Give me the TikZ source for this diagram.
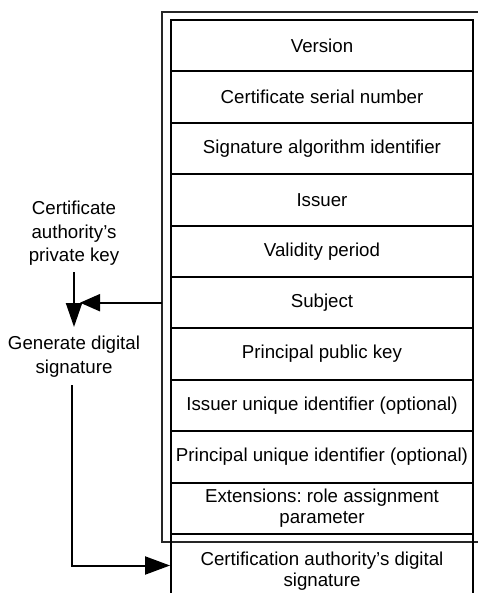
\documentclass[tikz,border=0pt]{standalone}
\usepackage{fontspec}
\setmainfont{Liberation Sans}
\usetikzlibrary{arrows.meta}
\frenchspacing
\begin{document}
\begin{tikzpicture}[x=1pt,y=-1pt,
  field/.style={draw, line width=1.9pt, rectangle, minimum width=302pt,
    minimum height=51.4pt, inner sep=0pt, align=center,
    font=\fontsize{18.7}{21}\selectfont},
  lbl/.style={align=center, inner sep=0pt, font=\fontsize{18.7}{23.5}\selectfont},
  frame/.style={draw=black!85, line width=1.2pt},
  link/.style={line width=2pt}
]
\useasboundingbox (0,0) rectangle (478,593);

% outer frame round the certificate fields
\draw[frame] (162,12) rectangle (480,542);

% certificate fields, top to bottom
\node[field] (f1)  at (322, 45.7)  {Version};
\node[field] (f2)  at (322, 97.1)  {Certificate serial number};
\node[field] (f3)  at (322, 148.5) {Signature algorithm identifier};
\node[field] (f4)  at (322, 199.9) {Issuer};
\node[field] (f5)  at (322, 251.3) {Validity period};
\node[field] (f6)  at (322, 302.7) {Subject};
\node[field] (f7)  at (322, 354.1) {Principal public key};
\node[field] (f8)  at (322, 405.5) {Issuer unique identifier (optional)};
\node[field] (f9)  at (322, 456.9) {Principal unique identifier (optional)};
\node[field] (f10) at (322, 508.3) {Extensions: role assignment\\parameter};
\node[field, minimum height=76pt] (sig) at (322, 571.5)
  {Certification authority’s digital\\signature};

% signing side
\node[lbl, anchor=south] (key) at (74, 266) {Certificate\\authority’s\\private key};
\node[lbl, anchor=north] (gen) at (74, 336) {Generate digital\\signature};

\draw[link, -{Triangle[length=24pt,width=16pt]}, shorten <=6pt, shorten >=9pt]
  (key.south) -- (gen.north);
\draw[link, -{Triangle[length=20pt,width=17pt]}]
  (f6.west -| 162,0) -- ([xshift=6pt]f6.west -| key.south);
\draw[link, -{Triangle[length=25pt,width=18pt]}]
  ([xshift=-2pt,yshift=-8pt]gen.south) |- ([yshift=6pt]sig.west);
\end{tikzpicture}
\end{document}
